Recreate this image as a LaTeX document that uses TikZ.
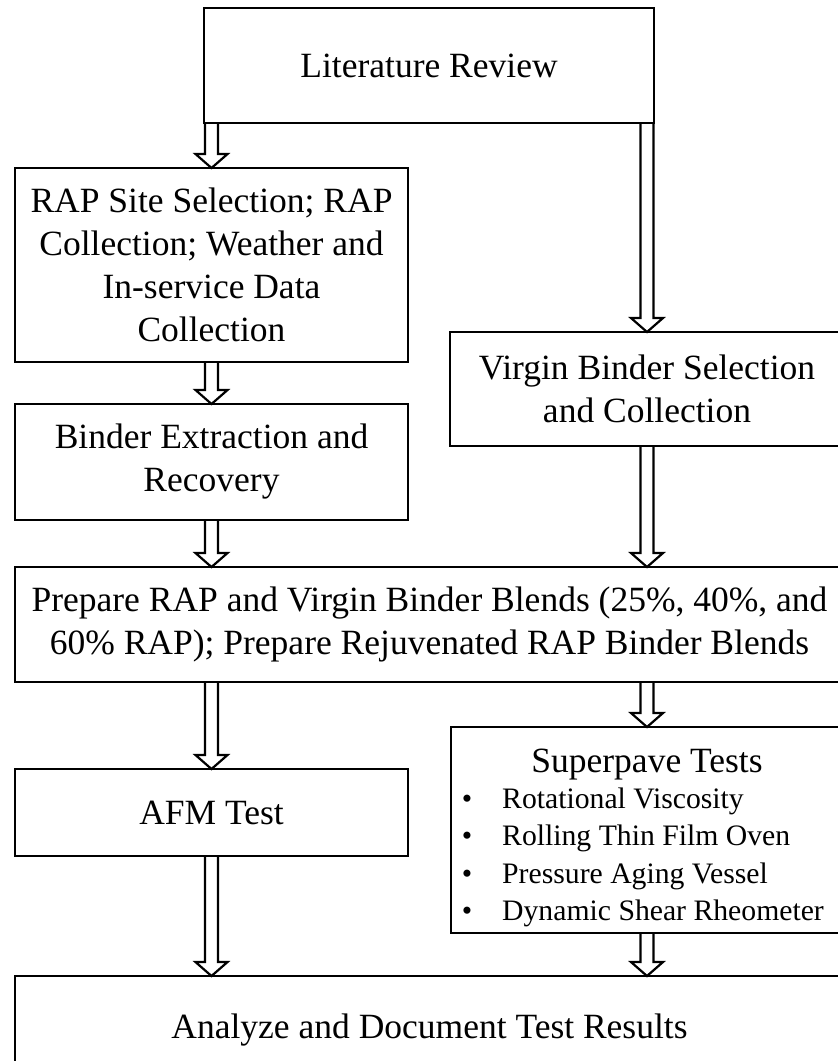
\documentclass[tikz,border=0pt]{standalone}
\usepackage{fontspec}
\setmainfont{Liberation Serif}
\usetikzlibrary{calc,positioning}

\tikzset{
  stagebox/.style={draw, line width=2.8pt, outer sep=0pt, inner sep=0pt, align=center,
    font=\fontsize{35.5}{43}\selectfont},
  hollow/.style={draw, line width=2.2pt, line join=miter},
  listtext/.style={inner sep=0pt, font=\fontsize{29.7}{37}\selectfont}
}
% hollow block arrow: x from #1, tip at the y of #2
\newcommand{\flowarrow}[2]{%
  \draw[hollow] let \p1=(#1), \p2=(#2) in
    (\x1-6.5,\y1) -- (\x1-6.5,\y2+14) -- (\x1-16,\y2+14) -- (\x1,\y2)
    -- (\x1+16,\y2+14) -- (\x1+6.5,\y2+14) -- (\x1+6.5,\y1);}

\begin{document}
\begin{tikzpicture}[x=1pt, y=-1pt]
\clip (0,0) rectangle (838,1061);

\node[stagebox, minimum width=450, minimum height=115] (lit) at (429,65.5) {Literature Review};
\node[stagebox, minimum width=393, minimum height=194] (rap) at (211.5,265)
  {RAP Site Selection; RAP\\Collection; Weather and\\In-service Data\\Collection};
\node[stagebox, minimum width=393, minimum height=116] (extract) at (211.5,462)
  {Binder Extraction and\\Recovery};
\node[stagebox, minimum width=394, minimum height=114] (virgin) at (647,389)
  {Virgin Binder Selection\\and Collection};
\node[stagebox, minimum width=829, minimum height=115] (blend) at (429.5,624.5)
  {Prepare RAP and Virgin Binder Blends (25\%, 40\%, and\\60\% RAP); Prepare Rejuvenated RAP Binder Blends};
\node[stagebox, minimum width=393, minimum height=87] (afm) at (211.5,812.5) {AFM Test};

% superpave box with its list
\node[stagebox, minimum width=392, minimum height=206] (superpave) at (647,830) {};
\node[inner sep=0pt, anchor=base, font=\fontsize{35.5}{43}\selectfont] (sptitle) at (647,772) {Superpave Tests};
\foreach \t [count=\i] in {Rotational Viscosity, Rolling Thin Film Oven, Pressure Aging Vessel, Dynamic Shear Rheometer}{
  \node[listtext, anchor=base] (dot\i) at (467,770.5+\i*37.5) {\textbullet};
  \node[listtext, anchor=base west] (item\i) at (502,770.5+\i*37.5) {\t};
}

\node[stagebox, minimum width=829, minimum height=108] (analyze) at (429.5,1030)
  {Analyze and Document Test Results};

% arrows
\flowarrow{lit.south -| rap.north}{rap.north}
\flowarrow{lit.south -| virgin.north}{virgin.north}
\flowarrow{rap.south}{extract.north}
\flowarrow{extract.south}{blend.north}
\flowarrow{virgin.south}{blend.north}
\flowarrow{blend.south -| afm.north}{afm.north}
\flowarrow{blend.south -| superpave.north}{superpave.north}
\flowarrow{afm.south}{analyze.north}
\flowarrow{superpave.south}{analyze.north}
\end{tikzpicture}
\end{document}
